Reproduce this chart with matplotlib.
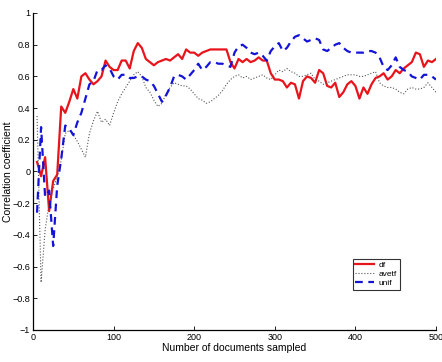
import numpy as np
import matplotlib
matplotlib.use("Agg")
import matplotlib.pyplot as plt

plt.rcParams['font.family'] = ['Liberation Sans', 'DejaVu Sans']

# number of documents sampled
docs = np.arange(5, 501, 5)

df = [0.06, -0.03, 0.09, -0.25, -0.06, -0.02, 0.41, 0.37, 0.44, 0.52,
      0.46, 0.60, 0.62, 0.58, 0.55, 0.57, 0.60, 0.70, 0.66, 0.64,
      0.64, 0.70, 0.70, 0.65, 0.76, 0.81, 0.78, 0.71, 0.69, 0.67,
      0.69, 0.70, 0.71, 0.70, 0.72, 0.74, 0.71, 0.77, 0.75, 0.75,
      0.73, 0.75, 0.76, 0.77, 0.77, 0.77, 0.77, 0.77, 0.69, 0.65,
      0.71, 0.69, 0.71, 0.69, 0.70, 0.72, 0.70, 0.70, 0.62, 0.58,
      0.58, 0.57, 0.53, 0.56, 0.55, 0.46, 0.57, 0.60, 0.59, 0.56,
      0.64, 0.62, 0.54, 0.53, 0.56, 0.47, 0.50, 0.55, 0.57, 0.54,
      0.46, 0.53, 0.49, 0.55, 0.59, 0.60, 0.62, 0.58, 0.60, 0.64,
      0.62, 0.65, 0.67, 0.69, 0.75, 0.74, 0.66, 0.70, 0.69, 0.71]

avetf = [0.35, -0.70, -0.37, -0.20, -0.11, -0.03, 0.07, 0.24, 0.26, 0.23,
         0.19, 0.14, 0.09, 0.24, 0.32, 0.38, 0.31, 0.33, 0.29, 0.37,
         0.44, 0.49, 0.53, 0.57, 0.61, 0.63, 0.60, 0.53, 0.50, 0.45,
         0.41, 0.43, 0.49, 0.53, 0.56, 0.55, 0.54, 0.54, 0.52, 0.49,
         0.46, 0.45, 0.43, 0.44, 0.46, 0.48, 0.51, 0.55, 0.58, 0.60,
         0.61, 0.59, 0.60, 0.58, 0.59, 0.60, 0.61, 0.59, 0.58, 0.61,
         0.64, 0.63, 0.65, 0.63, 0.62, 0.60, 0.60, 0.61, 0.62, 0.58,
         0.57, 0.55, 0.56, 0.57, 0.58, 0.59, 0.60, 0.61, 0.61, 0.61,
         0.60, 0.60, 0.61, 0.62, 0.63, 0.56, 0.54, 0.53, 0.53, 0.52,
         0.50, 0.49, 0.52, 0.53, 0.52, 0.52, 0.53, 0.56, 0.53, 0.50]

unif = [-0.26, 0.28, -0.16, -0.12, -0.47, -0.09, 0.08, 0.29, 0.27, 0.23,
        0.31, 0.37, 0.46, 0.55, 0.57, 0.64, 0.64, 0.67, 0.65, 0.60,
        0.58, 0.61, 0.61, 0.59, 0.59, 0.60, 0.60, 0.58, 0.57, 0.54,
        0.49, 0.44, 0.48, 0.53, 0.60, 0.61, 0.60, 0.58, 0.61, 0.64,
        0.68, 0.64, 0.66, 0.69, 0.69, 0.68, 0.68, 0.67, 0.66, 0.75,
        0.79, 0.80, 0.78, 0.75, 0.74, 0.75, 0.73, 0.70, 0.76, 0.79,
        0.81, 0.76, 0.78, 0.82, 0.85, 0.86, 0.84, 0.82, 0.83, 0.84,
        0.83, 0.77, 0.76, 0.78, 0.80, 0.81, 0.78, 0.76, 0.75, 0.75,
        0.75, 0.75, 0.76, 0.76, 0.75, 0.72, 0.66, 0.64, 0.67, 0.72,
        0.66, 0.64, 0.63, 0.60, 0.59, 0.58, 0.61, 0.61, 0.60, 0.58]

yticklabels = ['\u22121', '\u22120.8', '\u22120.6', '\u22120.4', '\u22120.2',
               '0', '0.2', '0.4', '0.6', '0.8', '1']

fig = plt.figure(figsize=(4.42, 3.62), dpi=100)
ax = fig.add_axes([0.0747, 0.0884, 0.9117, 0.8757])

ax.plot(docs, df, color='#e8141c', lw=1.6, label='df')
ax.plot(docs, avetf, color='#555555', lw=0.8, ls=':', label='avetf')
ax.plot(docs, unif, color='#1414d8', lw=1.6, ls=(0, (3.5, 2.5)), label='unif')

ax.set_xlim(0, 500)
ax.set_ylim(-1, 1)
ax.set_xticks([0, 100, 200, 300, 400, 500])
ax.set_yticks(np.linspace(-1, 1, 11))
ax.set_yticklabels(yticklabels)
ax.tick_params(direction='in', labelsize=6.5, length=3, width=0.6, pad=2)
ax.spines['top'].set_visible(False)
ax.spines['right'].set_visible(False)
ax.spines['left'].set_linewidth(0.9)
ax.spines['bottom'].set_linewidth(0.9)

ax.set_xlabel('Number of documents sampled', fontsize=7.5, labelpad=1)
ax.set_ylabel('Correlation coefficient', fontsize=7.5)
ax.yaxis.set_label_coords(-0.05, 0.5)

leg = ax.legend(loc='upper left', bbox_to_anchor=(0.794, 0.225), fontsize=6,
                frameon=True, fancybox=False, edgecolor='black',
                handlelength=2.2, handletextpad=0.6, borderpad=0.3,
                labelspacing=0.15, borderaxespad=0)
leg.get_frame().set_linewidth(0.8)

fig.savefig('out.png', dpi=100)
